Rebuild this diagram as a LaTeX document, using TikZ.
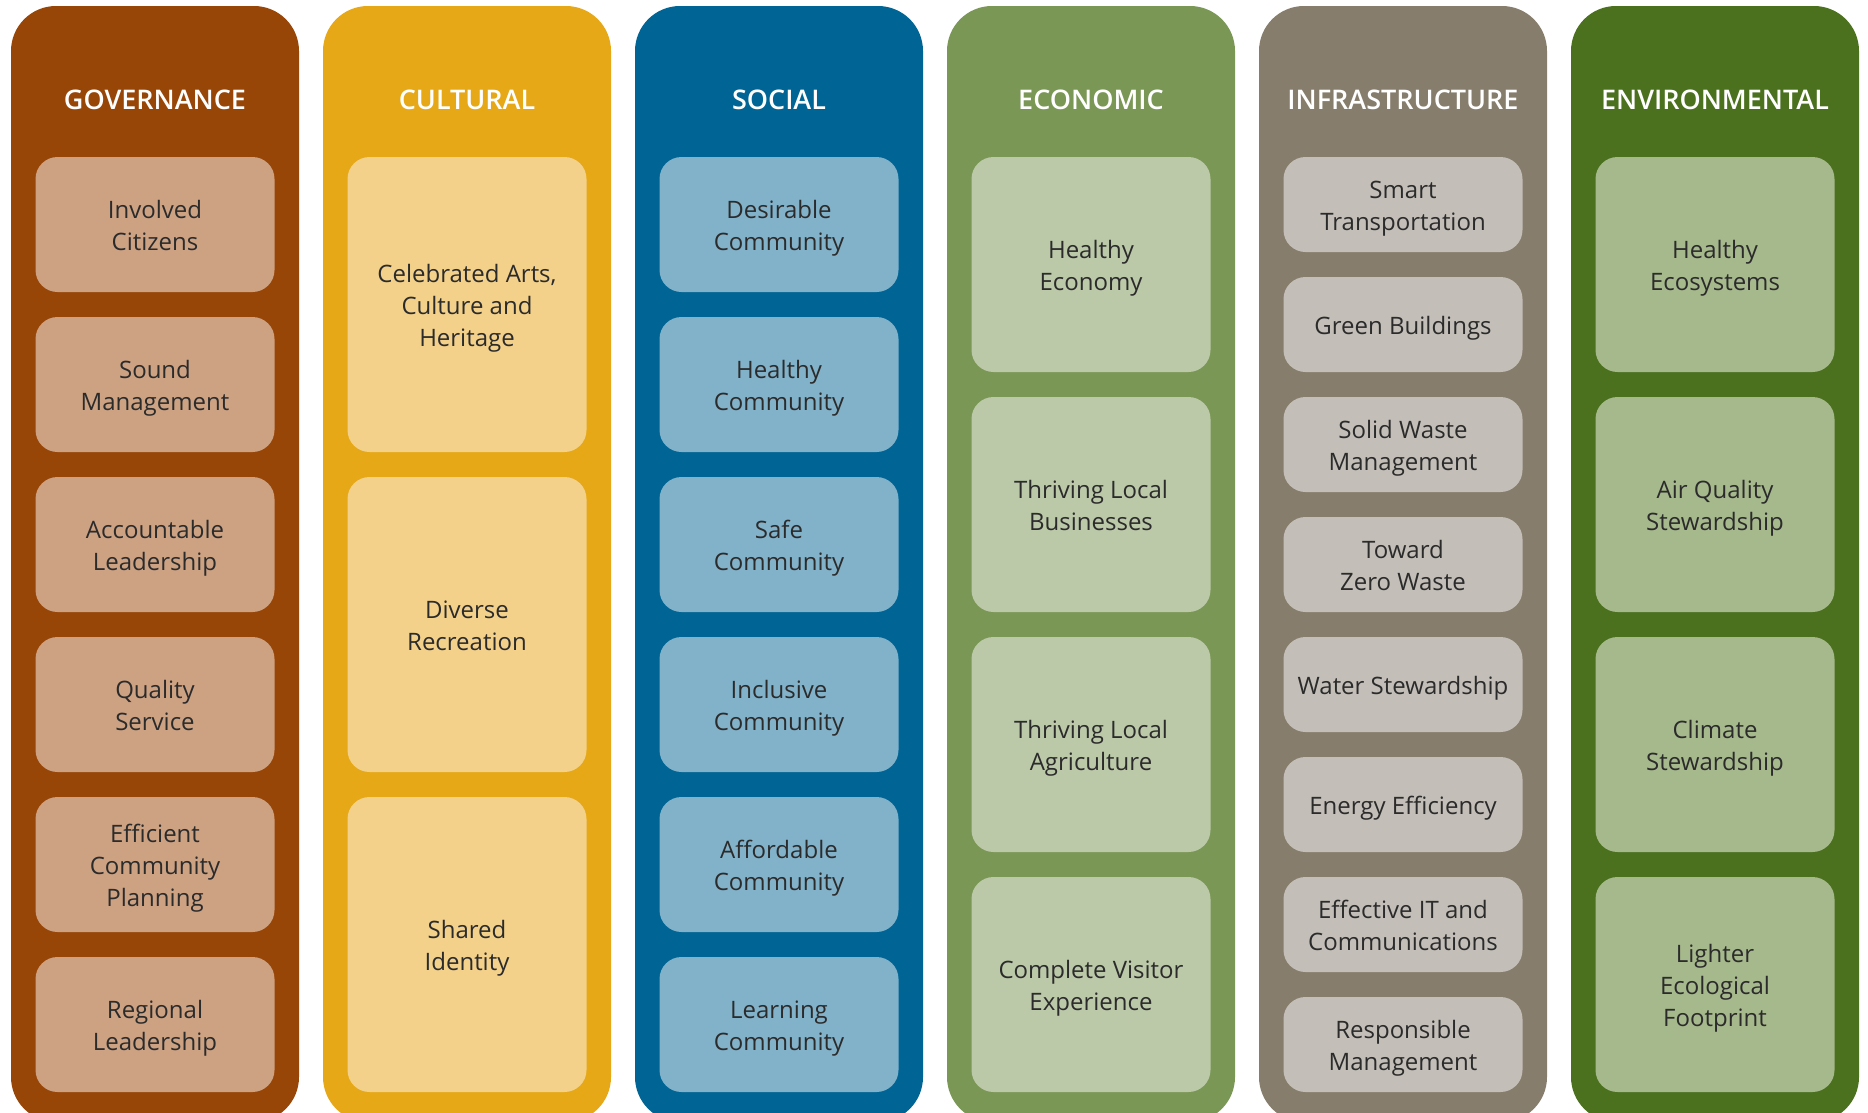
\documentclass[tikz,border=0pt]{standalone}
\usepackage{fontspec}
\setmainfont{Open Sans}
\IfFontExistsTF{Open Sans SemiBold}{\newfontface\hdrfont{Open Sans SemiBold}}{%
 \IfFontExistsTF{Open Sans Semibold}{\newfontface\hdrfont{Open Sans Semibold}}{%
  \newfontface\hdrfont{Open Sans}[FakeBold=2]}}
\definecolor{govD}{HTML}{984607}\definecolor{govL}{HTML}{CDA283}
\definecolor{culD}{HTML}{E6A817}\definecolor{culL}{HTML}{F3D18A}
\definecolor{socD}{HTML}{006494}\definecolor{socL}{HTML}{81B2CA}
\definecolor{ecoD}{HTML}{7A9755}\definecolor{ecoL}{HTML}{BBC9A8}
\definecolor{infD}{HTML}{877D6C}\definecolor{infL}{HTML}{C3BFB8}
\definecolor{envD}{HTML}{4B711E}\definecolor{envL}{HTML}{A6B98C}
\definecolor{txt}{HTML}{2B2B2B}
\newcommand\lnstrut{\rule[-6.4pt]{0pt}{32pt}}
\tikzset{
 pillar/.style={rectangle, minimum width=288pt, minimum height=1116pt, rounded corners=45pt, inner sep=0pt, draw=none, fill=#1},
 header/.style={text=white, font=\fontsize{27}{32}\selectfont\hdrfont, inner sep=0pt},
 item/.style={rectangle, rounded corners=22pt, fill=#1, minimum width=239pt, inner sep=0pt, align=center, text=txt, font=\fontsize{24}{32}\selectfont},
}
\newcommand\mkpillar[6]{%
 \pgfmathsetmacro\cx{155+312*#1}
 \node[pillar=#2D] (col-#2) at (\cx,564) {};
 \node[header] (head-#2) at (\cx,99.5) {#3};
 \foreach \t [count=\k from 0] in {#6} {
   \pgfmathsetmacro\cy{157+\k*(#5+25)+#5/2}
   \node[item=#2L, minimum height=#5pt] (#2-\k) at (\cx,\cy) {\lnstrut\t\lnstrut};
 }
}
\begin{document}
\begin{tikzpicture}[x=1pt,y=-1pt]
\useasboundingbox (0,0) rectangle (1868,1112);
\clip (0,0) rectangle (1868,1112);
\fill[white] (0,0) rectangle (1868,1112);
\mkpillar{0}{gov}{GOVERNANCE}{6}{135}{{Involved\\Citizens},{Sound\\Management},{Accountable\\Leadership},{Quality\\Service},{Efficient\\Community\\Planning},{Regional\\Leadership}}
\mkpillar{1}{cul}{CULTURAL}{3}{295}{{Celebrated Arts,\\Culture and\\Heritage},{Diverse\\Recreation},{Shared\\Identity}}
\mkpillar{2}{soc}{SOCIAL}{6}{135}{{Desirable\\Community},{Healthy\\Community},{Safe\\Community},{Inclusive\\Community},{Affordable\\Community},{Learning\\Community}}
\mkpillar{3}{eco}{ECONOMIC}{4}{215}{{Healthy\\Economy},{Thriving Local\\Businesses},{Thriving Local\\Agriculture},{Complete Visitor\\Experience}}
\mkpillar{4}{inf}{INFRASTRUCTURE}{8}{95}{{Smart\\Transportation},{Green Buildings},{Solid Waste\\Management},{Toward\\Zero Waste},{Water Stewardship},{Energy Efficiency},{Effective IT and\\Communications},{Responsible\\Management}}
\mkpillar{5}{env}{ENVIRONMENTAL}{4}{215}{{Healthy\\Ecosystems},{Air Quality\\Stewardship},{Climate\\Stewardship},{Lighter\\Ecological\\Footprint}}
\end{tikzpicture}
\end{document}
